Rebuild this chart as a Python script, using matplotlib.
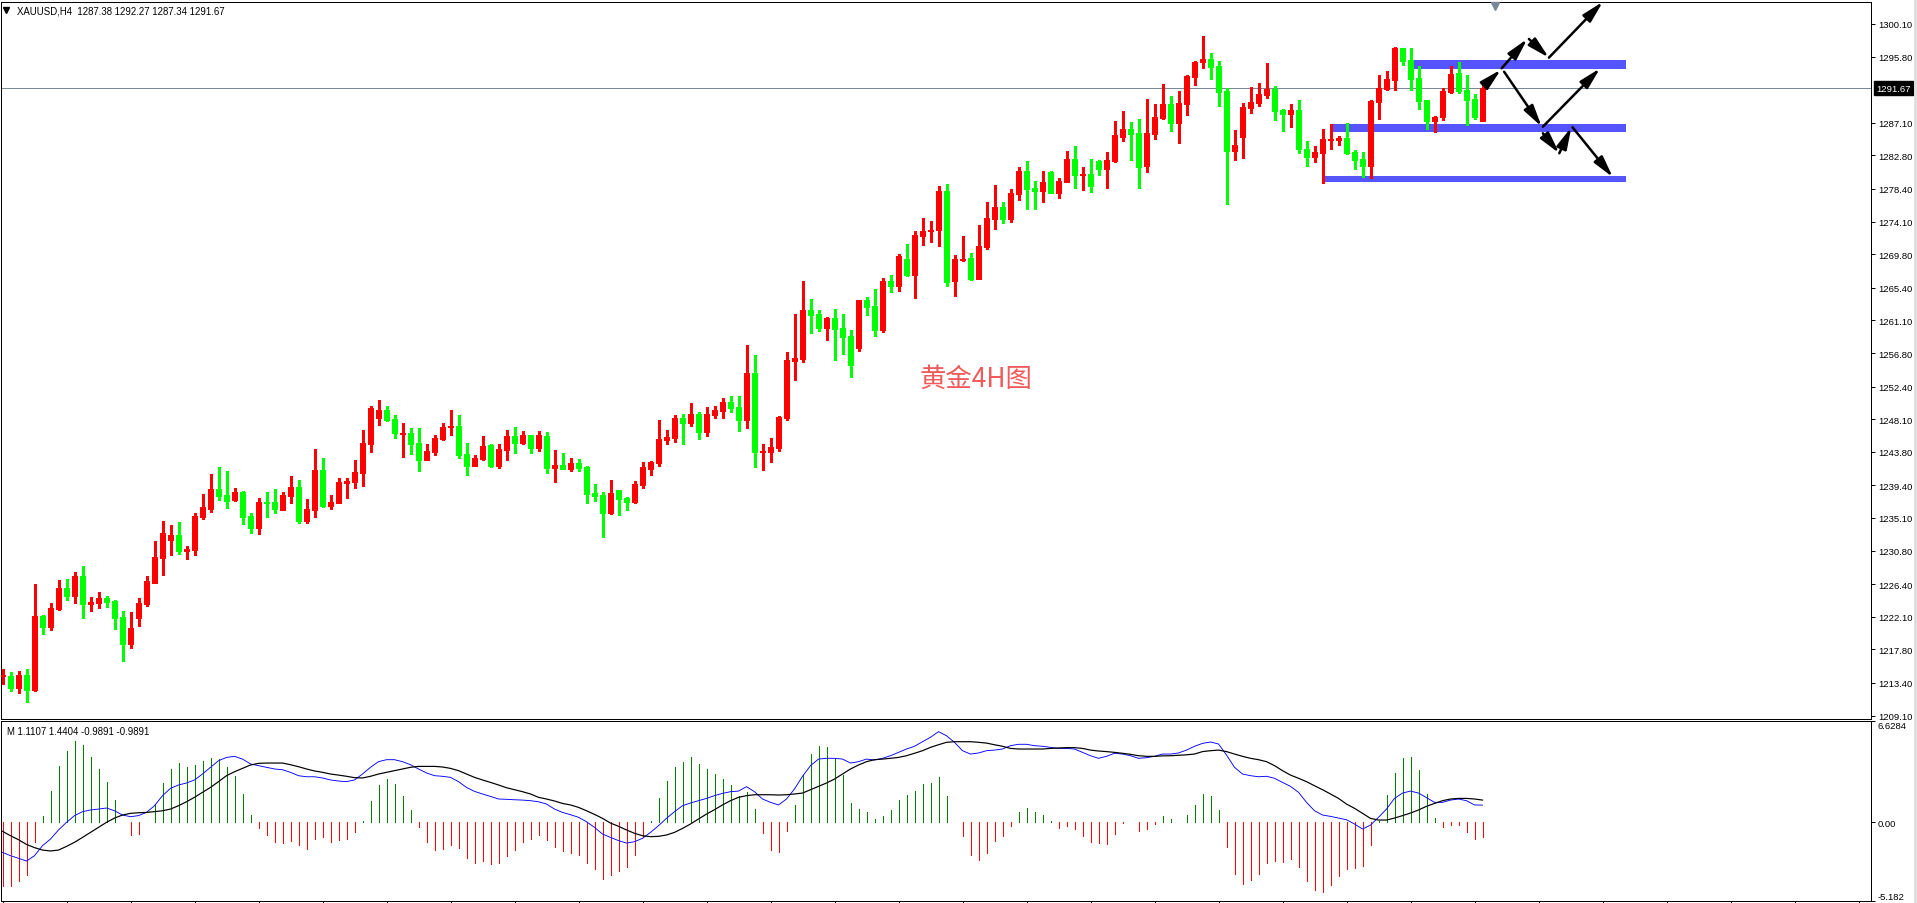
import matplotlib
matplotlib.use("Agg")
import matplotlib.pyplot as plt
from matplotlib.patches import Rectangle
from matplotlib.lines import Line2D
import matplotlib.transforms as mtransforms

plt.rcParams['font.family'] = ['Liberation Sans', 'DejaVu Sans']

# XAUUSD H4 candles (red = up, green = down)
opens = [1214.31, 1214.31, 1212.73, 1214.44, 1212.47, 1222.21, 1220.76, 1223.13, 1225.89, 1224.84,
         1227.47, 1223.78, 1223.92, 1224.57, 1224.18, 1222.07, 1218.52, 1221.94, 1223.78, 1226.55,
         1229.84, 1232.21, 1232.86, 1230.76, 1230.89, 1235.23, 1236.28, 1238.92, 1238.13, 1237.47,
         1238.52, 1235.36, 1233.78, 1237.21, 1237.21, 1236.15, 1238.00, 1239.18, 1234.71, 1236.15,
         1241.42, 1236.68, 1237.07, 1239.71, 1239.84, 1241.02, 1244.84, 1248.26, 1249.31, 1248.13,
         1246.15, 1246.28, 1244.97, 1242.73, 1243.78, 1245.50, 1247.07, 1247.21, 1243.52, 1241.94,
         1242.86, 1244.71, 1241.94, 1244.05, 1245.89, 1244.97, 1246.02, 1244.31, 1245.89, 1241.68,
         1242.07, 1241.55, 1242.34, 1241.81, 1238.39, 1238.13, 1235.76, 1238.78, 1237.73, 1237.21,
         1239.44, 1241.55, 1242.34, 1245.36, 1245.63, 1248.26, 1247.60, 1248.78, 1246.42, 1248.65,
         1249.18, 1250.36, 1249.71, 1248.00, 1254.18, 1243.78, 1243.78, 1244.31, 1248.26, 1255.76,
         1256.02, 1262.47, 1261.94, 1260.10, 1261.42, 1260.10, 1259.05, 1257.47, 1263.78, 1263.00,
         1259.84, 1266.28, 1265.63, 1269.18, 1267.07, 1272.21, 1272.86, 1273.00, 1278.13, 1266.28,
         1269.05, 1269.31, 1266.55, 1270.76, 1274.44, 1276.02, 1274.44, 1277.73, 1280.76, 1278.52,
         1278.13, 1280.63, 1277.86, 1279.31, 1282.34, 1280.23, 1280.36, 1282.07, 1281.02, 1282.07,
         1285.23, 1286.28, 1285.76, 1281.42, 1285.63, 1287.73, 1289.57, 1287.07, 1289.57, 1293.13,
         1295.10, 1295.50, 1294.57, 1291.28, 1283.39, 1285.23, 1289.05, 1289.71, 1290.76, 1291.55,
         1288.78, 1288.26, 1288.78, 1283.65, 1282.60, 1283.13, 1284.84, 1284.84, 1285.10, 1283.26,
         1282.34, 1281.42, 1289.84, 1291.55, 1292.73, 1296.94, 1295.36, 1293.00, 1290.10, 1287.34,
         1287.86, 1291.15, 1293.65, 1291.42, 1290.23, 1287.38]
closes = [1214.44, 1212.73, 1214.44, 1212.47, 1222.21, 1220.76, 1223.26, 1225.89, 1224.84, 1227.47,
          1223.78, 1224.05, 1224.57, 1224.05, 1221.94, 1218.52, 1220.63, 1223.92, 1226.81, 1229.97,
          1233.13, 1232.86, 1230.76, 1231.02, 1235.36, 1236.55, 1238.92, 1238.00, 1237.34, 1238.52,
          1235.23, 1233.78, 1237.21, 1237.07, 1236.28, 1238.13, 1239.18, 1234.71, 1236.28, 1241.42,
          1236.68, 1237.21, 1239.84, 1239.97, 1241.15, 1244.97, 1249.57, 1249.31, 1248.00, 1246.28,
          1246.28, 1244.84, 1242.73, 1243.92, 1245.63, 1247.07, 1247.21, 1243.39, 1241.94, 1243.00,
          1244.57, 1241.94, 1244.18, 1245.89, 1244.97, 1246.02, 1244.31, 1246.02, 1241.68, 1242.07,
          1241.55, 1242.34, 1241.68, 1238.26, 1238.00, 1235.76, 1238.39, 1237.60, 1237.21, 1239.57,
          1241.81, 1242.47, 1245.50, 1245.76, 1248.26, 1247.60, 1248.78, 1246.42, 1248.78, 1249.31,
          1250.36, 1249.57, 1248.00, 1254.18, 1243.78, 1243.92, 1244.44, 1248.39, 1255.89, 1256.15,
          1262.47, 1261.81, 1260.10, 1261.42, 1259.97, 1258.92, 1255.23, 1263.78, 1262.86, 1259.84,
          1266.28, 1265.63, 1269.57, 1267.07, 1272.34, 1272.86, 1273.00, 1278.13, 1266.15, 1269.18,
          1269.18, 1266.55, 1270.89, 1274.57, 1276.02, 1274.44, 1277.86, 1280.76, 1278.39, 1278.13,
          1279.31, 1277.86, 1279.44, 1282.34, 1280.23, 1280.36, 1278.78, 1281.02, 1282.21, 1285.50,
          1286.28, 1285.63, 1281.28, 1285.76, 1287.86, 1289.57, 1287.07, 1289.71, 1293.26, 1295.10,
          1295.50, 1294.44, 1291.15, 1283.39, 1284.18, 1289.18, 1289.84, 1290.89, 1291.55, 1288.65,
          1288.26, 1288.78, 1283.65, 1282.60, 1283.26, 1284.97, 1284.97, 1285.10, 1283.13, 1282.21,
          1281.42, 1289.97, 1291.68, 1292.86, 1296.94, 1295.23, 1292.86, 1289.97, 1287.34, 1287.86,
          1291.28, 1293.52, 1291.28, 1290.10, 1287.86, 1291.67]
highs = [1215.23, 1214.84, 1214.97, 1215.23, 1226.42, 1222.34, 1223.92, 1226.94, 1227.07, 1228.00,
         1228.78, 1224.71, 1225.36, 1224.84, 1224.31, 1222.86, 1222.73, 1224.57, 1227.47, 1232.07,
         1234.71, 1234.18, 1234.57, 1231.42, 1235.76, 1238.26, 1240.89, 1241.81, 1241.28, 1239.05,
         1238.65, 1235.76, 1237.73, 1238.52, 1238.92, 1238.52, 1240.63, 1240.10, 1237.60, 1244.18,
         1243.00, 1238.13, 1240.36, 1240.36, 1242.73, 1246.68, 1249.84, 1250.63, 1249.84, 1248.65,
         1247.60, 1246.94, 1246.94, 1244.84, 1246.02, 1247.60, 1249.31, 1248.65, 1244.97, 1243.39,
         1245.89, 1244.84, 1244.84, 1246.68, 1247.07, 1246.55, 1246.02, 1246.55, 1246.42, 1244.05,
         1243.65, 1243.00, 1242.86, 1241.94, 1239.57, 1238.52, 1240.10, 1238.78, 1237.86, 1239.97,
         1242.47, 1242.60, 1248.00, 1246.68, 1248.65, 1248.78, 1250.23, 1249.05, 1249.71, 1249.84,
         1250.89, 1251.15, 1251.15, 1257.86, 1256.55, 1244.84, 1245.63, 1248.52, 1256.94, 1261.94,
         1266.28, 1263.92, 1262.47, 1261.55, 1262.60, 1261.94, 1259.84, 1263.78, 1264.18, 1265.23,
         1266.68, 1267.07, 1269.84, 1271.15, 1272.86, 1274.57, 1274.18, 1278.78, 1279.05, 1269.71,
         1272.21, 1269.97, 1273.65, 1276.68, 1278.92, 1276.68, 1278.39, 1281.28, 1282.07, 1279.44,
         1280.76, 1280.76, 1279.84, 1283.39, 1284.05, 1281.28, 1282.34, 1282.21, 1283.26, 1287.34,
         1288.65, 1287.21, 1287.60, 1290.23, 1289.57, 1292.21, 1290.63, 1291.28, 1293.39, 1295.23,
         1298.52, 1296.28, 1295.23, 1291.68, 1286.15, 1289.71, 1291.81, 1292.34, 1294.97, 1291.94,
         1288.92, 1289.57, 1290.10, 1284.71, 1284.05, 1286.28, 1286.94, 1285.36, 1287.07, 1283.52,
         1283.26, 1290.10, 1293.39, 1293.92, 1297.07, 1296.94, 1296.94, 1294.57, 1290.10, 1288.00,
         1291.68, 1294.57, 1295.10, 1293.39, 1290.89, 1292.27]
lows = [1213.26, 1212.34, 1212.07, 1210.89, 1212.34, 1219.84, 1220.36, 1223.00, 1224.31, 1223.92,
        1221.94, 1222.86, 1223.26, 1223.39, 1220.50, 1216.28, 1218.00, 1220.89, 1223.52, 1226.55,
        1227.60, 1230.23, 1230.36, 1229.71, 1230.23, 1234.97, 1235.89, 1237.47, 1236.42, 1237.34,
        1234.31, 1233.13, 1233.00, 1235.23, 1235.76, 1236.15, 1237.07, 1234.44, 1234.44, 1235.23,
        1236.55, 1236.28, 1237.07, 1237.73, 1239.05, 1239.31, 1243.78, 1247.34, 1247.86, 1245.63,
        1243.13, 1243.52, 1241.28, 1242.73, 1243.39, 1245.36, 1246.02, 1243.00, 1240.76, 1241.94,
        1242.73, 1241.81, 1241.68, 1242.73, 1243.65, 1244.84, 1243.65, 1243.92, 1241.02, 1239.84,
        1241.55, 1241.28, 1241.28, 1237.07, 1237.34, 1232.60, 1235.63, 1235.50, 1236.15, 1237.07,
        1239.05, 1240.76, 1241.94, 1244.84, 1245.10, 1244.84, 1247.21, 1245.50, 1245.89, 1248.26,
        1248.26, 1249.05, 1246.55, 1246.94, 1241.81, 1241.42, 1242.47, 1243.92, 1248.00, 1253.26,
        1255.63, 1259.44, 1259.71, 1258.52, 1255.89, 1256.68, 1253.65, 1257.07, 1261.81, 1259.05,
        1259.57, 1264.84, 1264.97, 1266.94, 1264.05, 1271.02, 1271.42, 1270.89, 1265.63, 1264.31,
        1268.92, 1266.42, 1266.55, 1270.50, 1273.13, 1273.92, 1274.05, 1276.94, 1275.76, 1275.76,
        1276.68, 1277.86, 1277.21, 1279.31, 1278.52, 1278.26, 1278.00, 1280.23, 1278.52, 1281.94,
        1284.71, 1282.21, 1278.52, 1280.63, 1284.97, 1287.60, 1286.02, 1284.44, 1288.13, 1292.07,
        1294.31, 1292.86, 1289.31, 1276.42, 1282.21, 1282.47, 1288.39, 1289.31, 1290.36, 1287.47,
        1286.02, 1286.55, 1283.13, 1281.42, 1281.94, 1279.18, 1283.65, 1284.18, 1283.00, 1281.02,
        1279.97, 1279.84, 1287.60, 1291.42, 1291.42, 1294.71, 1291.42, 1288.92, 1286.28, 1285.89,
        1287.47, 1291.02, 1291.02, 1286.81, 1287.60, 1287.34]

# MACD panel: histogram, fast line (blue), slow line (black)
macd_hist = [-4.22, -4.22, -3.85, -3.46, -1.33, 0.42, 2.06, 3.70, 4.68, 5.31,
             5.05, 4.29, 3.48, 2.65, 1.47, 0.0, -0.83, -0.77, 0.0, 1.15,
             2.56, 3.48, 3.87, 3.63, 3.74, 4.00, 4.20, 4.13, 3.61, 3.02,
             1.84, 0.46, -0.37, -0.83, -1.29, -1.36, -1.23, -1.49, -1.75, -1.09,
             -0.96, -1.29, -1.16, -1.09, -0.63, 0.07, 1.38, 2.43, 2.82, 2.49,
             1.71, 0.79, -0.31, -1.29, -1.82, -1.75, -1.49, -1.69, -2.34, -2.67,
             -2.54, -2.73, -2.67, -2.21, -1.82, -1.29, -1.12, -0.83, -1.16, -1.62,
             -1.88, -2.01, -2.14, -2.69, -3.06, -3.72, -3.46, -3.19, -2.93, -2.14,
             -0.94, 0.07, 1.57, 2.69, 3.61, 3.94, 4.27, 3.81, 3.48, 3.15,
             2.82, 2.43, 1.71, 1.97, 0.85, -0.70, -1.84, -1.97, -0.59, 1.12,
             3.08, 4.46, 4.99, 4.92, 4.13, 3.08, 1.25, 0.85, 0.66, 0.20,
             0.39, 0.79, 1.44, 1.77, 2.03, 2.49, 2.56, 2.95, 1.71, 0.0,
             -0.90, -2.14, -2.47, -2.01, -1.22, -0.90, -0.24, 0.66, 0.92, 0.66,
             0.46, 0.07, -0.37, -0.24, -0.44, -0.90, -1.29, -1.36, -1.42, -0.77,
             -0.04, 0.0, -0.57, -0.44, -0.11, 0.39, 0.20, 0.02, 0.46, 1.12,
             1.84, 1.71, 0.79, -1.62, -3.39, -4.05, -3.79, -3.39, -2.67, -2.54,
             -2.60, -2.41, -2.93, -3.85, -4.44, -4.57, -4.11, -3.52, -3.06, -3.00,
             -2.87, -1.49, 0.05, 1.77, 3.22, 4.20, 4.27, 3.41, 1.84, 0.26,
             -0.31, -0.17, -0.17, -0.63, -1.09, -0.99]
macd_fast = [-1.99, -2.21, -2.38, -2.56, -2.21, -1.55, -1.12, -0.52, -0.02, 0.42,
             0.68, 0.79, 0.85, 0.92, 0.74, 0.46, 0.35, 0.42, 0.63, 1.07,
             1.73, 2.21, 2.43, 2.56, 2.76, 3.15, 3.59, 4.02, 4.24, 4.31,
             4.13, 3.81, 3.70, 3.59, 3.48, 3.43, 3.26, 3.04, 2.97, 2.97,
             2.89, 2.76, 2.69, 2.65, 2.76, 3.15, 3.59, 3.96, 4.09, 4.09,
             3.96, 3.76, 3.48, 3.22, 3.04, 3.00, 2.93, 2.65, 2.27, 2.01,
             1.84, 1.68, 1.51, 1.49, 1.46, 1.44, 1.40, 1.33, 1.18, 0.85,
             0.63, 0.48, 0.31, 0.02, -0.35, -0.79, -1.01, -1.22, -1.38, -1.29,
             -1.07, -0.68, -0.24, 0.24, 0.68, 1.07, 1.25, 1.40, 1.55, 1.73,
             1.88, 1.99, 2.03, 2.32, 1.99, 1.51, 1.29, 1.12, 1.51, 2.17,
             3.00, 3.70, 4.13, 4.18, 4.18, 4.13, 3.87, 3.96, 4.13, 4.07,
             4.18, 4.35, 4.57, 4.79, 4.97, 5.27, 5.56, 5.93, 5.66, 5.23,
             4.68, 4.46, 4.53, 4.68, 4.72, 4.79, 5.01, 5.10, 5.10, 5.01,
             4.97, 4.90, 4.83, 4.83, 4.79, 4.57, 4.35, 4.18, 4.31, 4.51,
             4.46, 4.35, 4.18, 4.22, 4.31, 4.46, 4.46, 4.53, 4.72, 4.97,
             5.16, 5.25, 5.12, 4.40, 3.59, 3.15, 3.04, 2.97, 3.00, 2.87,
             2.60, 2.34, 1.95, 1.29, 0.74, 0.46, 0.37, 0.26, 0.15, -0.13,
             -0.46, -0.20, 0.31, 0.85, 1.55, 1.90, 2.03, 1.90, 1.60, 1.29,
             1.29, 1.44, 1.51, 1.40, 1.12, 1.11]
macd_slow = [-0.61, -0.90, -1.16, -1.47, -1.68, -1.84, -1.90, -1.84, -1.60, -1.33,
             -1.01, -0.68, -0.35, -0.02, 0.26, 0.46, 0.57, 0.61, 0.63, 0.68,
             0.74, 0.85, 1.07, 1.33, 1.62, 1.95, 2.27, 2.65, 3.04, 3.30,
             3.52, 3.74, 3.85, 3.87, 3.87, 3.87, 3.76, 3.63, 3.48, 3.35,
             3.26, 3.15, 3.08, 3.00, 2.91, 2.89, 3.00, 3.15, 3.26, 3.37,
             3.48, 3.59, 3.65, 3.65, 3.65, 3.61, 3.52, 3.37, 3.15, 2.93,
             2.76, 2.60, 2.43, 2.25, 2.12, 1.99, 1.84, 1.62, 1.51, 1.38,
             1.22, 1.12, 0.96, 0.74, 0.50, 0.24, -0.07, -0.28, -0.52, -0.74,
             -0.90, -0.96, -0.94, -0.85, -0.68, -0.42, -0.13, 0.20, 0.52, 0.81,
             1.12, 1.40, 1.62, 1.73, 1.79, 1.79, 1.79, 1.77, 1.79, 1.84,
             1.90, 2.12, 2.34, 2.56, 2.82, 3.15, 3.48, 3.74, 3.96, 4.09,
             4.13, 4.18, 4.24, 4.35, 4.51, 4.68, 4.90, 5.07, 5.23, 5.27,
             5.27, 5.27, 5.23, 5.18, 5.07, 4.97, 4.83, 4.79, 4.79, 4.79,
             4.79, 4.83, 4.86, 4.88, 4.88, 4.83, 4.72, 4.66, 4.62, 4.57,
             4.51, 4.44, 4.35, 4.31, 4.31, 4.34, 4.35, 4.38, 4.41, 4.46,
             4.62, 4.68, 4.72, 4.62, 4.46, 4.31, 4.18, 4.09, 3.96, 3.70,
             3.37, 3.08, 2.87, 2.65, 2.38, 2.12, 1.84, 1.55, 1.18, 0.90,
             0.57, 0.24, 0.13, 0.13, 0.26, 0.42, 0.59, 0.79, 1.03, 1.22,
             1.40, 1.51, 1.55, 1.55, 1.51, 1.44]

price_ticks = [1300.10, 1295.80, 1287.10, 1282.80, 1278.40, 1274.10, 1269.80, 1265.40,
               1261.10, 1256.80, 1252.40, 1248.10, 1243.80, 1239.40, 1235.10, 1230.80,
               1226.40, 1222.10, 1217.80, 1213.40, 1209.10]
macd_ticks = [-5.182, 0.0, 6.6284]
macd_tick_labels = ['-5.182', '0.00', '6.6284']
last_price = 1291.67
header = 'XAUUSD,H4  1287.38 1292.27 1287.34 1291.67'
macd_header = 'M 1.1107 1.4404 -0.9891 -0.9891'

# support / resistance bands: (start bar, end bar, low, high)
zones = [(176.3, 202.9, 1294.18, 1295.36),
         (165.9, 202.9, 1285.89, 1286.94),
         (164.9, 202.9, 1279.31, 1280.10)]
# projected path arrows: (start bar, start price, end bar, end price)
arrows = [(185.4, 1292.21, 187.3, 1294.09),
          (187.4, 1294.27, 190.6, 1298.13),
          (190.8, 1298.13, 193.3, 1295.67),
          (193.3, 1295.67, 200.05, 1303.03),
          (187.7, 1293.82, 192.4, 1286.59),
          (192.55, 1286.59, 199.7, 1294.27),
          (192.55, 1285.72, 194.6, 1283.09),
          (194.6, 1283.09, 196.1, 1286.51),
          (196.25, 1286.51, 201.3, 1279.93)]

W, H = 1917, 904
fig = plt.figure(figsize=(W / 100, H / 100), dpi=100)
fig.patch.set_facecolor('white')

ax = fig.add_axes([1 / W, (H - 720) / H, 1870 / W, 717.5 / H])
ax2 = fig.add_axes([1 / W, 2 / H, 1870 / W, 180 / H])

n = len(opens)
xs = list(range(n))
px = 0.72  # one pixel in points

# ---- price panel ----
for x0, x1, lo, hi in zones:
    ax.add_patch(Rectangle((x0, lo), x1 - x0, hi - lo, facecolor='#5555FF',
                           edgecolor='none', zorder=1))

cols = ['#FF0000' if c >= o else '#00FF00' for o, c in zip(opens, closes)]
ax.vlines(xs, lows, highs, colors=cols, lw=1.3 * px, zorder=3, antialiased=False)
bottoms = [min(o, c) for o, c in zip(opens, closes)]
heights = [abs(c - o) for o, c in zip(opens, closes)]
ax.bar(xs, heights, bottom=bottoms, width=0.52, color=cols, edgecolor=cols,
       linewidth=0.9 * px, zorder=4, antialiased=False)

ax.axhline(last_price, color='#778899', lw=1.0 * px, zorder=2)

for xa, ya, xb, yb in arrows:
    ax.annotate('', xy=(xb, yb), xytext=(xa, ya),
                arrowprops=dict(arrowstyle='-|>,head_length=1.3,head_width=0.32',
                                color='black', lw=1.8, shrinkA=0, shrinkB=0,
                                mutation_scale=10),
                annotation_clip=False, zorder=6)

trans = mtransforms.blended_transform_factory(ax.transData, ax.transAxes)
ax.plot([186.5], [0.994], marker='v', ms=6, color='#778899', transform=trans,
        clip_on=False, zorder=7)

ax.text(0.5215, 0.475, '黄金4H图', transform=ax.transAxes, ha='center', va='center',
        fontsize=19, color='#F05A5A', family=['Noto Sans CJK SC', 'DejaVu Sans'])

ax.set_xlim(-0.1875, 233.5625)
ax.set_ylim(1208.65, 1303.06)
ax.set_xticks([])
ax.yaxis.tick_right()
ax.set_yticks(price_ticks)
ax.set_yticklabels(['%.2f' % p for p in price_ticks])
ax.tick_params(axis='y', length=3, width=px, pad=2, labelsize=6.8, direction='out')
for s in ax.spines.values():
    s.set_linewidth(1.0 * px)
    s.set_color('black')

ax.annotate('%.2f' % last_price, xy=(1.0, last_price), xycoords=('axes fraction', 'data'),
            xytext=(3.5, 0), textcoords='offset points', ha='left', va='center',
            fontsize=6.8, color='white', annotation_clip=False,
            bbox=dict(boxstyle='square,pad=0.25', fc='black', ec='black'))

# ---- MACD panel ----
hcols = ['#008000' if v > 0 else '#FF0000' for v in macd_hist]
ax2.vlines(xs, 0, macd_hist, colors=hcols, lw=1.0 * px, antialiased=False)
ax2.plot(xs, macd_fast, color='#0000FF', lw=0.9 * px)
ax2.plot(xs, macd_slow, color='black', lw=1.2 * px)

ax2.set_xlim(-0.1875, 233.5625)
ax2.set_ylim(-5.182, 6.6284)
ax2.set_xticks(list(range(0, 234, 8)))
ax2.tick_params(axis='x', length=2.5, width=px, labelbottom=False, direction='out')
ax2.yaxis.tick_right()
ax2.set_yticks(macd_ticks)
ax2.set_yticklabels(macd_tick_labels)
ax2.tick_params(axis='y', length=3, width=px, pad=2, labelsize=6.8, direction='out')
tl = ax2.get_yticklabels()
tl[0].set_va('bottom')
tl[2].set_va('top')
for s in ax2.spines.values():
    s.set_linewidth(1.0 * px)
    s.set_color('black')

# ---- header texts ----
fig.text(17 / W, 1 - 11 / H, header, fontsize=6.9, va='center', ha='left')
fig.add_artist(Line2D([6 / W], [1 - 11 / H], marker='v', ms=4.5, color='black'))
fig.text(7 / W, 1 - 732 / H, macd_header, fontsize=6.9, va='center', ha='left')

fig.add_artist(Line2D([1914.5 / W, 1914.5 / W], [0, 1], color='#DDDDDD', lw=2.0))

fig.savefig('out.png', dpi=100, facecolor='white')
